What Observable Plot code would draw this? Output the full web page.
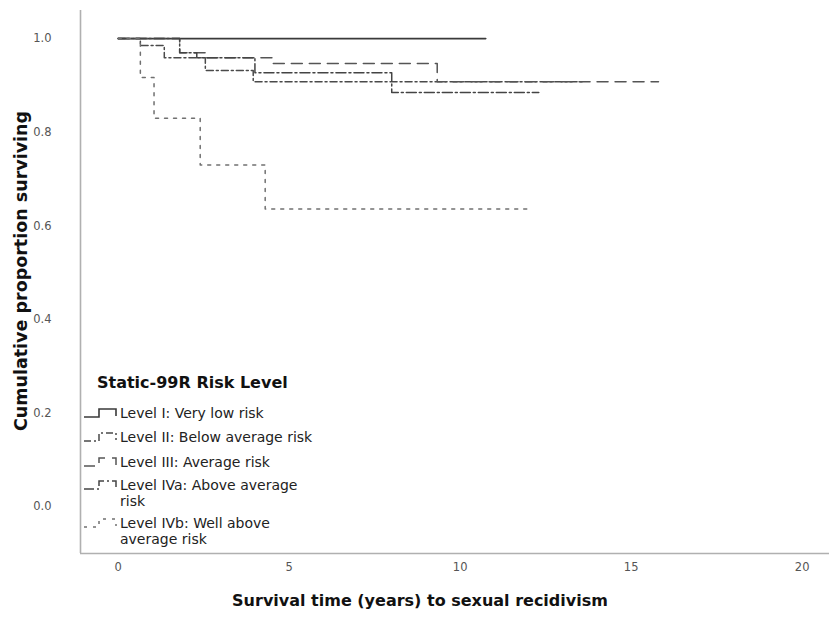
<!DOCTYPE html>
<html>
<head>
<meta charset="utf-8">
<script src="https://cdn.jsdelivr.net/npm/d3@7"></script>
<script src="https://cdn.jsdelivr.net/npm/@observablehq/plot@0.6"></script>
<style>
  html, body { margin: 0; padding: 0; background: #fff; }
  #chart { width: 831px; height: 620px; }
</style>
</head>
<body>
<div id="chart"></div>
<script>
// ---- data ----
const xTicks = [0, 5, 10, 15, 20];
const yTicks = [0.0, 0.2, 0.4, 0.6, 0.8, 1.0];
const xDomain = [-1.1, 20.8];
const yDomain = [-0.1, 1.06];

const levelNames = [
  "Level I: Very low risk",
  "Level II: Below average risk",
  "Level III: Average risk",
  "Level IVa: Above average risk",
  "Level IVb: Well above average risk"
];
const levelI_t   = [0, 10.75];
const levelI_s   = [1.0, 1.0];
const levelII_t  = [0, 0.65, 1.35, 2.55, 3.95, 13.6];
const levelII_s  = [1.0, 0.985, 0.959, 0.932, 0.908, 0.908];
const levelIII_t = [0, 1.8, 2.6, 4.5, 9.33, 15.8];
const levelIII_s = [1.0, 0.970, 0.959, 0.947, 0.908, 0.908];
const levelIVa_t = [0, 1.8, 2.3, 4.0, 8.0, 12.3];
const levelIVa_s = [1.0, 0.970, 0.959, 0.927, 0.885, 0.885];
const levelIVb_t = [0, 0.65, 1.05, 2.4, 4.3, 11.95];
const levelIVb_s = [1.0, 0.917, 0.830, 0.730, 0.636, 0.636];

// ---- styles ----
const styles = [
  {stroke: "#3a3a3a", dash: null, width: 1.6},
  {stroke: "#4a4a4a", dash: "7,3,2,3", width: 1.5},
  {stroke: "#555555", dash: "11,7", width: 1.5},
  {stroke: "#444444", dash: "10,3,2,3", width: 1.5},
  {stroke: "#707070", dash: "3,6", width: 1.5}
];

const series = [
  [levelI_t, levelI_s],
  [levelII_t, levelII_s],
  [levelIII_t, levelIII_s],
  [levelIVa_t, levelIVa_s],
  [levelIVb_t, levelIVb_s]
];
const rows = series.map(([t, s], i) => t.map((tt, j) => ({level: levelNames[i], t: tt, s: s[j]})));

const font = "'Lucida Grande', 'DejaVu Sans', sans-serif";

const chart = Plot.plot({
  width: 831,
  height: 620,
  marginLeft: 80,
  marginRight: 2,
  marginTop: 10,
  marginBottom: 67,
  style: {background: "#fff", fontFamily: font, fontSize: "11.5px", color: "#555"},
  x: {domain: xDomain, ticks: xTicks, tickSize: 0, tickPadding: 9, label: null},
  y: {domain: yDomain, ticks: yTicks, tickSize: 0, tickPadding: 29, tickFormat: d3.format(".1f"), label: null},
  marks: [
    Plot.ruleX([xDomain[0]], {stroke: "#b0b0b0", strokeWidth: 1.6}),
    Plot.ruleY([yDomain[0]], {stroke: "#b0b0b0", strokeWidth: 1.6}),
    ...rows.map((r, i) => Plot.line(r, {
      x: "t", y: "s", curve: "step-after",
      stroke: styles[i].stroke,
      strokeWidth: styles[i].width,
      strokeDasharray: styles[i].dash
    }))
  ]
});
document.getElementById("chart").appendChild(chart);

// ---- titles & legend ----
const svg = d3.select(chart);
svg.append("text")
  .attr("transform", "translate(27,271) rotate(-90)")
  .attr("text-anchor", "middle")
  .attr("font-family", font).attr("font-weight", "bold").attr("font-size", 17.5)
  .attr("fill", "#111")
  .text("Cumulative proportion surviving");
svg.append("text")
  .attr("x", 420).attr("y", 606)
  .attr("text-anchor", "middle")
  .attr("font-family", font).attr("font-weight", "bold").attr("font-size", 16)
  .attr("fill", "#111")
  .text("Survival time (years) to sexual recidivism");

const lg = svg.append("g").attr("font-family", font).attr("fill", "#222").attr("text-anchor", "start");
lg.append("text").attr("x", 97).attr("y", 388)
  .attr("text-anchor", "start")
  .attr("font-weight", "bold").attr("font-size", 16).attr("fill", "#111")
  .text("Static-99R Risk Level");

const legendRows = [
  {y: 413, lines: ["Level I: Very low risk"]},
  {y: 437, lines: ["Level II: Below average risk"]},
  {y: 462, lines: ["Level III: Average risk"]},
  {y: 485, lines: ["Level IVa: Above average", "risk"]},
  {y: 523, lines: ["Level IVb: Well above", "average risk"]}
];
legendRows.forEach((row, i) => {
  const st = styles[i];
  lg.append("path")
    .attr("d", `M84,${row.y + 4} H99 V${row.y - 4} H116 V${row.y + 3}`)
    .attr("fill", "none")
    .attr("stroke", st.stroke)
    .attr("stroke-width", st.width)
    .attr("stroke-dasharray", st.dash);
  row.lines.forEach((ln, k) => {
    lg.append("text").attr("x", 120).attr("y", row.y + 5 + k * 16)
      .attr("text-anchor", "start")
      .attr("font-size", 14).attr("fill", "#222").text(ln);
  });
});
</script>
</body>
</html>
